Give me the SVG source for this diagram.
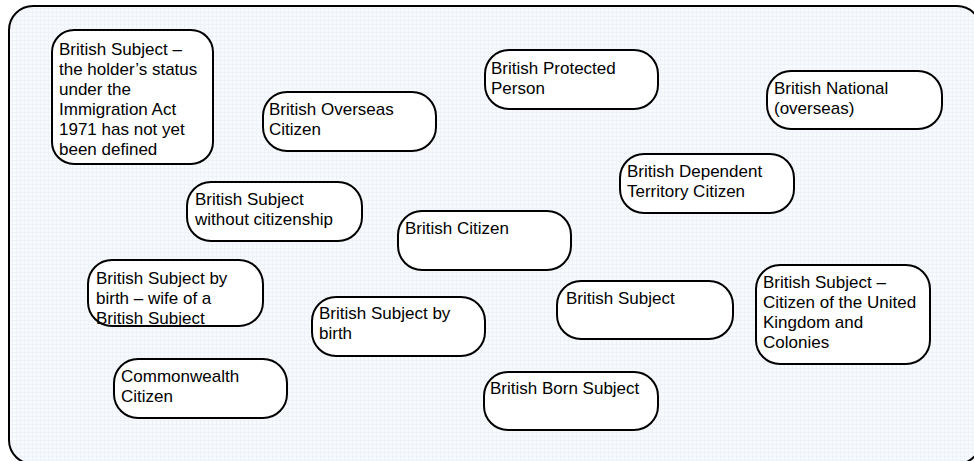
<svg xmlns="http://www.w3.org/2000/svg" width="974" height="461" viewBox="0 0 974 461">
<defs>
<pattern id="grid" width="4" height="4" patternUnits="userSpaceOnUse">
<rect width="4" height="4" fill="#f8fafd"/>
<path d="M0 0.5H4M0.5 0V4" stroke="#eef2f9" stroke-width="1"/>
</pattern>
</defs>
<style>
.frame{fill:url(#grid);stroke:#000000;stroke-width:2}
.node rect{fill:#ffffff;stroke:#000000;stroke-width:2}
.node text{font-family:"Liberation Sans",Arial,sans-serif;font-size:17px;fill:#000000}
</style>
<rect width="974" height="461" fill="#ffffff"/>
<rect class="frame" x="9" y="6" width="972" height="458" rx="24" ry="24"/>
<g id="connectors"></g>
<g id="n1" class="node"><rect x="52" y="30" width="161" height="134" rx="22"/><text><tspan x="59" y="55">British Subject –</tspan><tspan x="59" y="75">the holder’s status</tspan><tspan x="59" y="95">under the</tspan><tspan x="59" y="115">Immigration Act</tspan><tspan x="59" y="135">1971 has not yet</tspan><tspan x="59" y="155">been defined</tspan></text></g>
<g id="n2" class="node"><rect x="263" y="92" width="173" height="59" rx="24"/><text><tspan x="269" y="115">British Overseas</tspan><tspan x="269" y="135">Citizen</tspan></text></g>
<g id="n3" class="node"><rect x="485" y="50" width="173" height="59" rx="24"/><text><tspan x="491" y="74">British Protected</tspan><tspan x="491" y="94">Person</tspan></text></g>
<g id="n4" class="node"><rect x="767" y="71" width="175" height="58" rx="24"/><text><tspan x="774" y="94">British National</tspan><tspan x="774" y="114">(overseas)</tspan></text></g>
<g id="n5" class="node"><rect x="620" y="154" width="174" height="59" rx="24"/><text><tspan x="627" y="177">British Dependent</tspan><tspan x="627" y="197">Territory Citizen</tspan></text></g>
<g id="n6" class="node"><rect x="187" y="182" width="175" height="59" rx="24"/><text><tspan x="195" y="205">British Subject</tspan><tspan x="195" y="225">without citizenship</tspan></text></g>
<g id="n7" class="node"><rect x="398" y="211" width="173" height="59" rx="24"/><text><tspan x="405" y="234">British Citizen</tspan></text></g>
<g id="n8" class="node"><rect x="88" y="260" width="175" height="66" rx="24"/><text><tspan x="96" y="284">British Subject by</tspan><tspan x="96" y="304">birth – wife of a</tspan><tspan x="96" y="324">British Subject</tspan></text></g>
<g id="n9" class="node"><rect x="312" y="297" width="173" height="59" rx="24"/><text><tspan x="319" y="319">British Subject by</tspan><tspan x="319" y="339">birth</tspan></text></g>
<g id="n10" class="node"><rect x="114" y="359" width="173" height="59" rx="24"/><text><tspan x="121" y="382">Commonwealth</tspan><tspan x="121" y="402">Citizen</tspan></text></g>
<g id="n11" class="node"><rect x="557" y="281" width="176" height="58" rx="24"/><text><tspan x="566" y="304">British Subject</tspan></text></g>
<g id="n12" class="node"><rect x="756" y="265" width="174" height="99" rx="24"/><text><tspan x="763" y="288">British Subject –</tspan><tspan x="763" y="308">Citizen of the United</tspan><tspan x="763" y="328">Kingdom and</tspan><tspan x="763" y="348">Colonies</tspan></text></g>
<g id="n13" class="node"><rect x="484" y="372" width="174" height="58" rx="24"/><text><tspan x="490" y="394">British Born Subject</tspan></text></g>
</svg>
